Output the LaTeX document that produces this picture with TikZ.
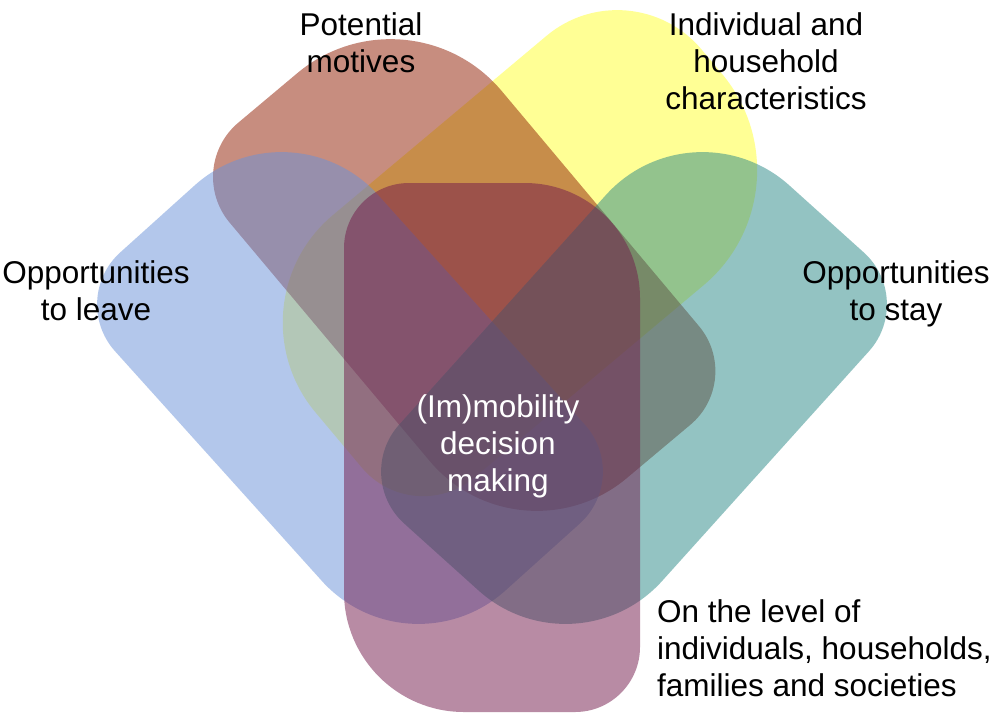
\documentclass[tikz,border=0pt]{standalone}
\usepackage{fontspec}
\setmainfont{Liberation Sans}
\definecolor{cyel}{RGB}{255,255,45}
\definecolor{cbrn}{RGB}{145,28,0}
\definecolor{cblu}{RGB}{105,145,217}
\definecolor{ctea}{RGB}{41,137,135}
\definecolor{cpur}{RGB}{115,25,75}
% #1 scope options, #2 fill colour, #3 half width, #4 half height, #5 TL, #6 TR, #7 BR, #8 BL radii
\newcommand{\rrshape}[8]{%
  \begin{scope}[#1]
    \fill[#2, fill opacity=0.5] (-#3+#5,-#4) -- (#3-#6,-#4)
      arc[start angle=-90,end angle=0,radius=#6] -- (#3,#4-#7)
      arc[start angle=0,end angle=90,radius=#7] -- (-#3+#8,#4)
      arc[start angle=90,end angle=180,radius=#8] -- (-#3,-#4+#5)
      arc[start angle=180,end angle=270,radius=#5] -- cycle;
  \end{scope}}
\begin{document}
\begin{tikzpicture}[x=1pt,y=-1pt,
  lbl/.style={font=\fontsize{31.5}{37}\selectfont, align=center, inner sep=0pt, text=black}]
\useasboundingbox (0,0) rectangle (999,716);
\fill[white] (0,0) rectangle (999,716);
% yellow: individual and household characteristics
\rrshape{shift={(522,247)}, rotate=-50}{cyel}{146}{264.5}{110}{150}{80}{140}
% brown: potential motives
\rrshape{shift={(464,274)}, rotate=40}{cbrn}{146.5}{261}{71}{145}{70}{140}
% blue: opportunities to leave
\rrshape{shift={(350,388)}, rotate=42}{cblu}{150}{254.5}{70}{130}{70}{130}
% teal: opportunities to stay
\rrshape{shift={(634,388)}, xscale=-1, rotate=42}{ctea}{150}{254.5}{70}{130}{70}{130}
% purple: level
\rrshape{shift={(492,447.5)}}{cpur}{148}{264.5}{65}{115}{65}{120}
% labels
\node[lbl, anchor=north] (pm) at (361,12) {Potential\\motives};
\node[lbl, anchor=north] (ih) at (766,12) {Individual and\\household\\characteristics};
\node[lbl, anchor=north] (ol) at (96,260) {Opportunities\\to leave};
\node[lbl, anchor=north] (os) at (896,260) {Opportunities\\to stay};
\node[lbl, anchor=north, text=white] (dm) at (498,394) {(Im)mobility\\decision\\making};
\node[lbl, anchor=north west, align=left] (lv) at (657,599) {On the level of\\individuals, households,\\families and societies};
\end{tikzpicture}
\end{document}
